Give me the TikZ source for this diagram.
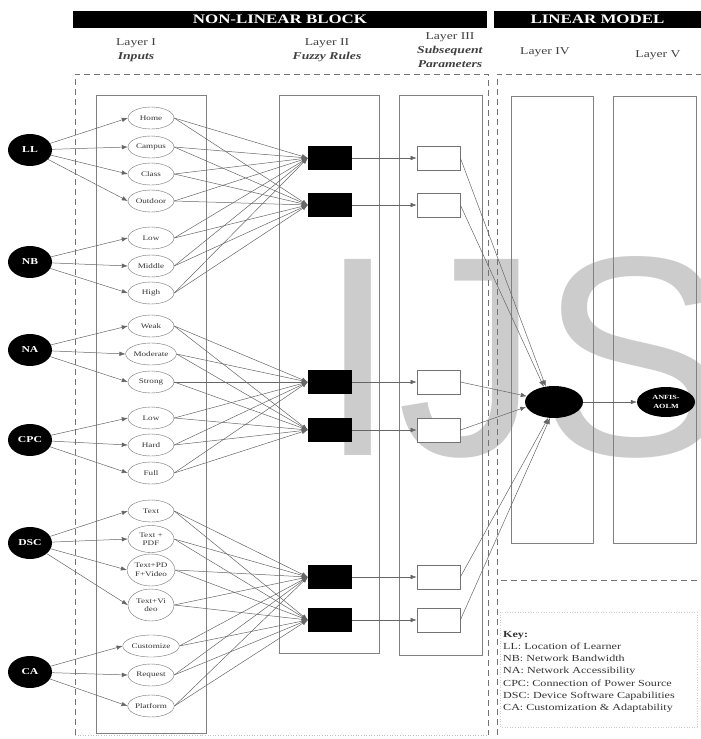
\documentclass[tikz,border=0pt]{standalone}
\usepackage{fontspec}
\setmainfont[FakeStretch=1.3]{Liberation Serif}
\newfontfamily\wmfont{Liberation Sans}
\usetikzlibrary{arrows.meta,shapes.geometric}

\begin{document}
\begin{tikzpicture}[x=1pt,y=-1pt,
  bar/.style={fill=black,text=white,font=\bfseries\fontsize{13}{14}\selectfont,minimum height=17pt,inner sep=0},
  lab/.style={font=\fontsize{10.5}{14}\selectfont,text=black!75,align=center,inner sep=0},
  layerbox/.style={draw=black!50,line width=0.8pt},
  region/.style={draw=black!55,line width=0.8pt,dash pattern=on 6pt off 4pt},
  innode/.style={ellipse,fill=black,text=white,font=\bfseries\fontsize{9}{10}\selectfont,minimum width=44pt,minimum height=32pt,inner sep=0},
  mf/.style={ellipse,draw=black!55,fill=white,text=black!80,font=\fontsize{7}{8.5}\selectfont,align=center,minimum width=46pt,minimum height=22pt,inner sep=0.5pt},
  rulebox/.style={fill=black,minimum width=44pt,minimum height=24pt,inner sep=0},
  param/.style={draw=black!55,fill=white,line width=0.7pt,minimum width=43pt,minimum height=24pt,inner sep=0},
  link/.style={draw=black!60,line width=0.5pt},
  arr/.style={link,-{Latex[length=6pt,width=4.5pt]}},
  keytext/.style={font=\fontsize{9.3}{12.2}\selectfont,text=black!80,align=left,inner sep=0}]

\useasboundingbox (0,0) rectangle (701,739);

% background watermark lettering
\begin{scope}
  \clip (0,0) rectangle (701,739);
  \node[anchor=base west,inner sep=0,text=black!20,font=\wmfont\fontsize{285}{285}\selectfont] (wm) at (318,455) {IJS};
\end{scope}

% header bars
\node[bar,minimum width=414pt] (hnl) at (280,19) {NON-LINEAR BLOCK};
\node[bar,minimum width=207pt] (hlm) at (597.5,19) {LINEAR MODEL};

% layer captions
\node[lab] (t1) at (136,50) {Layer I\\ \textbf{\textit{Inputs}}};
\node[lab] (t2) at (327,50) {Layer II\\ \textbf{\textit{Fuzzy Rules}}};
\node[lab] (t3) at (450,50) {Layer III\\ \textbf{\textit{Subsequent}}\\ \textbf{\textit{Parameters}}};
\node[lab] (t4) at (545,52) {Layer IV};
\node[lab] (t5) at (658,55) {Layer V};

% dashed regions
\draw[region] (75,735) -- (75,74) -- (488,74) -- (488,735);
\draw[draw=black!25,line width=0.6pt,dotted] (75,735) -- (488,735);
\draw[region] (497,735) -- (497,74) -- (701,74);
\draw[region] (501,580) -- (701,580);
\draw[draw=black!20,line width=0.6pt,dotted] (500,612) rectangle (697,727);

% layer columns
\draw[layerbox] (96,95) rectangle (206,733);
\draw[layerbox] (279,95) rectangle (379,653);
\draw[layerbox] (399,95) rectangle (482,655);
\draw[layerbox] (511,96) rectangle (593,543);
\draw[layerbox] (613,96) rectangle (696,543);

% input variables
\node[innode] (LL) at (30,150) {LL};
\node[innode] (NB) at (30,262) {NB};
\node[innode] (NA) at (30,350) {NA};
\node[innode] (CPC) at (30,440) {CPC};
\node[innode] (DSC) at (30,543) {DSC};
\node[innode] (CA) at (30,672) {CA};

% membership functions
\node[mf] (h1) at (151,118) {Home};
\node[mf] (h2) at (151,147) {Campus};
\node[mf] (h3) at (151,174) {Class};
\node[mf] (h4) at (151,201) {Outdoor};
\node[mf] (b1) at (151,238) {Low};
\node[mf] (b2) at (151,266) {Middle};
\node[mf] (b3) at (151,293) {High};
\node[mf] (a1) at (151,326) {Weak};
\node[mf] (a2) at (151,354) {Moderate};
\node[mf] (a3) at (151,382) {Strong};
\node[mf] (c1) at (151,418) {Low};
\node[mf] (c2) at (151,445) {Hard};
\node[mf] (c3) at (151,473) {Full};
\node[mf] (d1) at (151,511) {Text};
\node[mf,minimum height=27pt] (d2) at (151,539) {Text +\\PDF};
\node[mf,minimum height=32pt] (d3) at (151,570) {Text+PD\\F+Video};
\node[mf,minimum height=32pt] (d4) at (151,605) {Text+Vi\\deo};
\node[mf] (e1) at (151,646) {Customize};
\node[mf] (e2) at (151,675) {Request};
\node[mf] (e3) at (151,706) {Platform};

% fuzzy rules
\node[rulebox] (r1) at (330,158) {};
\node[rulebox] (r2) at (330,205) {};
\node[rulebox] (r3) at (330,382) {};
\node[rulebox] (r4) at (330,430) {};
\node[rulebox] (r5) at (330,577) {};
\node[rulebox] (r6) at (330,620) {};

% subsequent parameters
\node[param] (p1) at (438.5,158) {};
\node[param] (p2) at (438.5,205) {};
\node[param] (p3) at (438.5,382) {};
\node[param] (p4) at (438.5,430) {};
\node[param] (p5) at (438.5,577) {};
\node[param] (p6) at (438.5,620) {};

% layers IV and V
\node[ellipse,fill=black,minimum width=58pt,minimum height=32pt,inner sep=0] (sum) at (554,402) {};
\node[ellipse,fill=black,text=white,font=\bfseries\fontsize{6.3}{8.8}\selectfont,align=center,minimum width=58pt,minimum height=30pt,inner sep=0] (out) at (666,402) {ANFIS-\\AOLM};

% inputs to membership functions
\foreach \s/\t in {LL/h1,LL/h2,LL/h3,LL/h4,NB/b1,NB/b2,NB/b3,
                   NA/a1,NA/a2,NA/a3,CPC/c1,CPC/c2,CPC/c3,
                   DSC/d1,DSC/d2,DSC/d3,DSC/d4,CA/e1,CA/e2,CA/e3}
  \draw[arr] (\s) -- (\t.west);

% membership functions to rules
\foreach \s in {h1,h2,h3,h4,b1,b2,b3}
  \foreach \t in {r1,r2}
    \draw[arr] (\s.east) -- (\t.west);
\foreach \s in {a1,a2,a3,c1,c2,c3}
  \foreach \t in {r3,r4}
    \draw[arr] (\s.east) -- (\t.west);
\foreach \s in {d1,d2,d3,d4,e1,e2,e3}
  \foreach \t in {r5,r6}
    \draw[arr] (\s.east) -- (\t.west);

% rules to parameters
\foreach \i in {1,...,6}
  \draw[arr] (r\i.east) -- (p\i.west);

% parameters to layer IV
\draw[arr] (p1.east) -- (sum.118);
\draw[arr] (p2.east) -- (sum.124);
\draw[arr] (p3.east) -- (sum.168);
\draw[arr] (p4.east) -- (sum.190);
\draw[arr] (p5.east) -- (sum.250);
\draw[arr] (p6.east) -- (sum.256);
\draw[arr] (sum.east) -- (out.west);

% key
\node[keytext,anchor=north west] (key) at (503,631) {\textbf{Key:}\\
LL: Location of Learner\\
NB: Network Bandwidth\\
NA: Network Accessibility\\
CPC: Connection of Power Source\\
DSC: Device Software Capabilities\\
CA: Customization \& Adaptability};
\end{tikzpicture}
\end{document}
